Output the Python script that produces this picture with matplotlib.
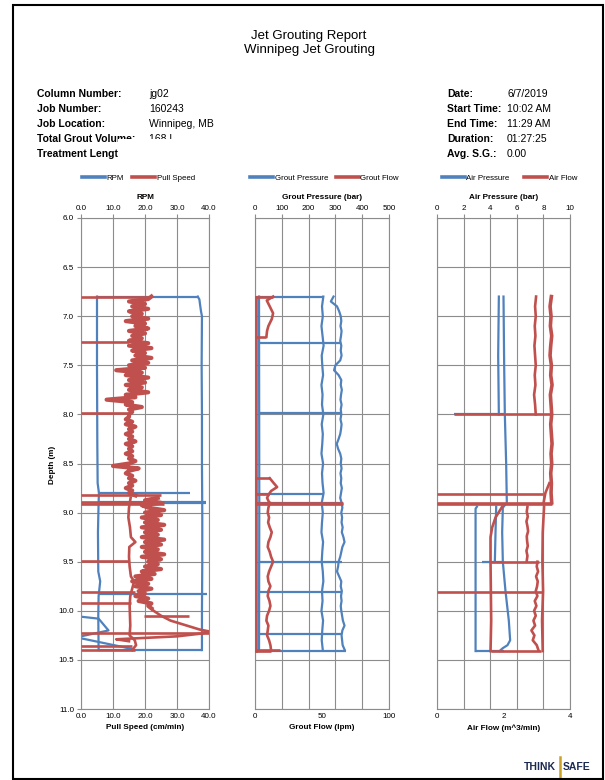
import numpy as np
import matplotlib
matplotlib.use('Agg')
import matplotlib.pyplot as plt
from matplotlib.lines import Line2D
from matplotlib.patches import Rectangle

plt.rcParams['font.family'] = ['Liberation Sans', 'DejaVu Sans']

BLUE = '#4f81bd'
RED = '#c0504d'
GRID = '#8c8c8c'
W, H = 605, 780

# ---------------- header info ----------------
info_left_labels = ['Column Number:', 'Job Number:', 'Job Location:', 'Total Grout Volume:', 'Treatment Length (m):']
info_left_values = ['jg02', '160243', 'Winnipeg, MB', '168 L', '3.60']
info_right_labels = ['Date:', 'Start Time:', 'End Time:', 'Duration:', 'Avg. S.G.:']
info_right_values = ['6/7/2019', '10:02 AM', '11:29 AM', '01:27:25', '0.00']

# ---------------- RPM / pull speed (cm/min) ----------------
# pull speed, dense readings every 0.025 m
speed_band_start = 6.80
speed_band = [22, 21, 15, 20, 16, 21, 15, 19,
              16, 21, 14, 20, 17, 21, 15, 20,
              16, 19, 15, 21, 15, 22, 16, 20,
              17, 22, 16, 21, 15, 20, 11, 19,
              14, 21, 15, 20, 14, 19, 15, 21,
              14, 17, 8, 16, 14, 19, 15, 16,
              15, 15, 14, 16, 14, 17, 15, 16,
              14, 16, 15, 17, 14, 16, 15, 16,
              14, 16, 15, 17, 15, 10, 18, 15,
              14, 16, 15, 17, 15, 16, 14, 16,
              15, 17]
speed_fast_start = 8.85
speed_fast = [24, 20, 25, 19, 21, 26, 20, 25,
              19, 24, 20, 26, 19, 25, 20, 24,
              19, 26, 20, 25, 19, 24, 20, 26,
              19, 25, 21, 24, 20, 25, 19, 23,
              17, 22, 16, 21, 17, 22, 18, 20,
              17, 21, 18, 22, 21, 22]
speed_tail_depth = [9.975, 10.00, 10.05, 10.10, 10.15, 10.19, 10.21, 10.23, 10.26, 10.29, 10.31]
speed_tail = [22, 22.7, 25, 28, 33, 37, 40, 38, 30, 11, 15]
speed_slow_depth = [8.85, 8.95, 9.05, 9.15, 9.25, 9.30, 9.35, 9.45, 9.55, 9.65, 9.70, 9.75,
                    9.85, 9.95, 10.05, 10.15, 10.25, 10.30, 10.35, 10.40]
speed_slow = [15.5, 15.0, 14.8, 15.3, 15.6, 17.0, 15.1, 15.0, 15.2, 15.6, 16.6, 16.2,
              15.4, 15.2, 15.3, 15.4, 15.2, 16.8, 17.2, 16.0]
speed_spike_depth = [6.80, 7.26, 7.99, 8.82, 8.89, 8.91, 9.49, 9.81, 9.92, 10.05, 10.23, 10.36, 10.40]
speed_spike_from = [0, 0, 0, 0, 0, 0, 0, 0, 0, 19.6, 0, 0, 0]
speed_spike_to = [22, 15, 15, 25, 26, 26, 15, 17, 15.5, 33.7, 40, 16, 17]

rpm_down_depth = [6.80, 7.50, 8.30, 8.70, 8.80, 8.90, 9.20, 9.60, 9.70, 9.76, 9.85, 10.05, 10.40]
rpm_down = [5.0, 5.0, 5.1, 5.2, 5.6, 5.5, 5.3, 5.4, 6.0, 5.8, 5.5, 5.4, 5.5]
rpm_up_depth = [10.40, 10.00, 9.50, 9.00, 8.50, 8.00, 7.50, 7.00, 6.95, 6.88, 6.83, 6.80]
rpm_up = [37.8, 37.8, 37.9, 37.9, 37.8, 37.8, 37.7, 37.8, 37.5, 37.2, 37.0, 36.5]
rpm_loop1_depth = [10.06, 10.08, 10.20, 10.26]
rpm_loop1 = [0, 5.5, 8.6, 0]
rpm_loop2_depth = [10.28, 10.37, 10.39]
rpm_loop2 = [0, 13.3, 16]
rpm_spike_depth = [6.80, 8.80, 8.895, 8.905, 9.83, 10.40]
rpm_spike_from = [5.0, 5.3, 5.5, 5.5, 5.5, 5.5]
rpm_spike_to = [36.5, 34.0, 39.0, 39.0, 39.5, 37.8]

# ---------------- grout pressure (bar) / grout flow (lpm) ----------------
gp_low_depth = [6.80, 8.90, 10.41]
gp_low = [15, 16, 15]
gp_mid_start = 6.80
gp_mid = [255, 250, 253, 248, 252, 256, 249, 251, 254, 248, 252, 250, 255, 249, 253, 251,
          248, 254, 250, 252, 256, 249, 253, 250, 248, 254, 251, 249, 253, 255, 250, 252,
          248, 254, 251, 249, 253]
gp_high_start = 6.80
gp_high = [293, 283, 306, 314, 320, 322, 319, 323, 321, 318, 322, 320, 323, 318, 300, 295,
           312, 322, 320, 324, 321, 319, 323, 320, 322, 319, 323, 321, 318, 312, 305, 310,
           318, 322, 320, 323, 319, 322, 320, 324, 321, 318, 323, 326, 322, 325, 323, 327,
           324, 330, 334, 326, 322, 318, 312, 310, 306, 314, 322, 320, 324, 321, 323, 320,
           322, 325, 328, 334, 326, 323, 325, 327, 335]
gp_spike_depth = [6.80, 7.27, 7.99, 8.81, 8.905, 8.915, 9.50, 9.81, 10.24, 10.41]
gp_spike_from = [5, 15, 15, 5, 0, 0, 15, 15, 15, 0]
gp_spike_to = [255, 322, 322, 255, 330, 330, 325, 320, 320, 340]

gf_edge_depth = [6.80, 10.41]
gf_edge = [0.5, 0.5]
gf_top_depth = [6.80, 6.84, 6.90, 6.97, 7.03, 7.10, 7.15, 7.21]
gf_top = [13.5, 8.8, 11.0, 13.5, 12.5, 10.0, 9.0, 8.5]
gf_mid_depth = [8.65, 8.70, 8.74, 8.78, 8.81, 8.85, 8.88, 8.91]
gf_mid = [11.0, 14.0, 16.5, 12.0, 10.5, 9.0, 10.0, 11.0]
gf_low_start = 8.90
gf_low = [11, 10, 9.5, 10.5, 9.8, 11, 12.5, 11.5, 10, 9.5, 11, 12, 13.5, 12, 10.5, 9.5,
          10, 11.5, 10, 9.5, 10.8, 11.5, 10.5, 9, 8.5, 10, 9.5, 9, 10.5, 11.5, 12]
gf_spike_depth = [6.80, 7.21, 8.65, 8.81, 8.905, 8.915, 10.40, 10.41]
gf_spike_from = [0, 0, 0, 0, 0, 0, 0, 0]
gf_spike_to = [13.5, 8.5, 11, 10.5, 66, 66, 19, 12]

# ---------------- air pressure (bar) / air flow (m^3/min) ----------------
ap_a_depth = [6.80, 7.40, 8.00]
ap_a = [4.65, 4.60, 4.65]
ap_b_depth = [6.80, 7.50, 8.00, 8.50, 8.90, 8.95, 9.20, 9.50, 9.80, 10.10, 10.30, 10.35, 10.38, 10.41]
ap_b = [5.00, 5.05, 5.10, 5.20, 5.25, 4.95, 4.90, 4.95, 5.15, 5.40, 5.50, 5.30, 4.95, 4.70]
ap_c_depth = [8.94, 9.20, 9.50]
ap_c = [4.45, 4.40, 4.35]
ap_d_depth = [8.94, 8.96, 10.41]
ap_d = [3.0, 2.9, 2.9]
ap_spike_depth = [8.00, 9.50, 10.41]
ap_spike_from = [1.26, 3.4, 2.9]
ap_spike_to = [5.1, 4.9, 5.0]

af_a_start = 6.80
af_a = [2.98, 2.95, 2.97, 2.94, 2.96, 2.93, 2.95, 2.97, 2.94, 2.96, 2.92, 2.95, 2.97]
af_b_start = 6.80
af_b = [3.44, 3.40, 3.43, 3.41, 3.45, 3.42, 3.40, 3.44, 3.42, 3.46, 3.41, 3.43, 3.45, 3.42,
        3.44, 3.46, 3.43, 3.45, 3.42, 3.44, 3.43, 3.45]
af_b2_depth = [8.70, 8.80, 8.91]
af_b2 = [3.38, 3.26, 3.20]
af_c_depth = [8.94, 9.05, 9.15, 9.25, 9.50, 9.80, 10.10, 10.41]
af_c = [1.96, 1.76, 1.66, 1.61, 1.61, 1.62, 1.63, 1.61]
af_d_start = 8.94
af_d = [2.72, 2.70, 2.73, 2.69, 2.72, 2.74, 2.70, 2.71, 2.73, 2.69, 2.72, 2.70]
af_e_start = 9.50
af_e = [3.02, 3.00, 3.04, 2.98, 3.03, 3.01, 2.97, 3.02, 2.94, 2.99, 2.92, 2.97, 2.90, 2.95,
        2.84, 2.93, 2.88, 3.00, 3.05]
af_f_depth = [8.94, 9.20, 9.50, 9.80, 10.10, 10.41]
af_f = [3.22, 3.18, 3.17, 3.19, 3.16, 3.18]
af_spike_depth = [8.00, 8.81, 8.905, 8.915, 9.50, 9.81, 10.41]
af_spike_from = [0.5, 0, 0, 0, 1.61, 0, 1.61]
af_spike_to = [3.47, 3.2, 3.47, 3.47, 3.06, 3.2, 3.12]


def depths(start, step, vals):
    return start + step * np.arange(len(vals))


def fx(px):
    return px / W


def fy(py):
    return 1 - py / H


fig = plt.figure(figsize=(6.05, 7.8), dpi=100)
fig.patch.set_facecolor('white')

depth_ticks = np.arange(6.0, 11.01, 0.5)


def make_panel(left, right, top_max, top_ticks, top_labels, top_title,
               bot_max, bot_ticks, bot_labels, bot_title, show_y):
    ax = fig.add_axes([fx(left), fy(709), fx(right - left), fy(218) - fy(709)])
    axb = ax.twiny()
    ax.xaxis.tick_top()
    ax.xaxis.set_label_position('top')
    axb.xaxis.tick_bottom()
    axb.xaxis.set_label_position('bottom')

    ax.set_ylim(11, 6)
    ax.set_xlim(0, top_max)
    ax.set_xticks(top_ticks)
    ax.set_xticklabels(top_labels)
    ax.set_yticks(depth_ticks)
    ax.grid(True, color=GRID, lw=0.8)
    ax.set_axisbelow(True)
    ax.tick_params(axis='x', direction='out', length=3, width=0.8, color=GRID,
                   labelsize=5.8, pad=1.5)
    if show_y:
        ax.set_yticklabels(['%.1f' % d for d in depth_ticks])
        ax.tick_params(axis='y', direction='out', length=3, width=0.8, color=GRID,
                       labelsize=5.8, pad=2)
    else:
        ax.tick_params(axis='y', length=0, labelleft=False)
    for s in ax.spines.values():
        s.set_color(GRID)
        s.set_linewidth(0.8)
    ax.set_xlabel(top_title, fontsize=5.9, fontweight='bold', labelpad=4)

    axb.set_xlim(0, bot_max)
    axb.set_xticks(bot_ticks)
    axb.set_xticklabels(bot_labels)
    axb.tick_params(axis='x', length=0, labelsize=5.8, pad=3)
    for s in axb.spines.values():
        s.set_visible(False)
    axb.set_xlabel(bot_title, fontsize=5.9, fontweight='bold', labelpad=3)
    return ax, axb


LB = 1.6    # blue line width
LR = 1.9    # red line width
LBAND = 3.0  # dense pull speed readings

# ---- left panel ----
ax1, ax1b = make_panel(81, 209, 40, [0, 10, 20, 30, 40], ['0.0', '10.0', '20.0', '30.0', '40.0'], 'RPM',
                       40, [0, 10, 20, 30, 40], ['0.0', '10.0', '20.0', '30.0', '40.0'],
                       'Pull Speed (cm/min)', True)
ax1.plot(rpm_down, rpm_down_depth, color=BLUE, lw=LB)
ax1.plot(rpm_up, rpm_up_depth, color=BLUE, lw=LB)
ax1.plot(rpm_loop1, rpm_loop1_depth, color=BLUE, lw=LB)
ax1.plot(rpm_loop2, rpm_loop2_depth, color=BLUE, lw=LB)
ax1.hlines(rpm_spike_depth, rpm_spike_from, rpm_spike_to, colors=BLUE, lw=LB)
ax1b.plot(speed_band, depths(speed_band_start, 0.025, speed_band), color=RED, lw=LBAND)
ax1b.plot(speed_fast, depths(speed_fast_start, 0.025, speed_fast), color=RED, lw=LBAND)
ax1b.plot(speed_tail, speed_tail_depth, color=RED, lw=LR)
ax1b.plot(speed_slow, speed_slow_depth, color=RED, lw=LR)
ax1b.hlines(speed_spike_depth, speed_spike_from, speed_spike_to, colors=RED, lw=LR)

# ---- middle panel ----
ax2, ax2b = make_panel(255, 389, 500, [0, 100, 200, 300, 400, 500], ['0', '100', '200', '300', '400', '500'],
                       'Grout Pressure (bar)', 100, [0, 50, 100], ['0', '50', '100'],
                       'Grout Flow (lpm)', False)
ax2.plot(gp_low, gp_low_depth, color=BLUE, lw=LB)
ax2.plot(gp_mid, depths(gp_mid_start, 0.1, gp_mid), color=BLUE, lw=LB)
ax2.plot(gp_high, depths(gp_high_start, 0.05, gp_high), color=BLUE, lw=LB)
ax2.hlines(gp_spike_depth, gp_spike_from, gp_spike_to, colors=BLUE, lw=LB)
ax2b.plot(gf_edge, gf_edge_depth, color=RED, lw=LR)
ax2b.plot(gf_top, gf_top_depth, color=RED, lw=LR)
ax2b.plot(gf_mid, gf_mid_depth, color=RED, lw=LR)
ax2b.plot(gf_low, depths(gf_low_start, 0.05, gf_low), color=RED, lw=LR)
ax2b.hlines(gf_spike_depth, gf_spike_from, gf_spike_to, colors=RED, lw=LR)

# ---- right panel ----
ax3, ax3b = make_panel(437, 570, 10, [0, 2, 4, 6, 8, 10], ['0', '2', '4', '6', '8', '10'],
                       'Air Pressure (bar)', 4, [0, 2, 4], ['0', '2', '4'],
                       'Air Flow (m^3/min)', False)
ax3.plot(ap_a, ap_a_depth, color=BLUE, lw=LB)
ax3.plot(ap_b, ap_b_depth, color=BLUE, lw=LB)
ax3.plot(ap_c, ap_c_depth, color=BLUE, lw=LB)
ax3.plot(ap_d, ap_d_depth, color=BLUE, lw=LB)
ax3.hlines(ap_spike_depth, ap_spike_from, ap_spike_to, colors=BLUE, lw=LB)
ax3b.plot(af_a, depths(af_a_start, 0.1, af_a), color=RED, lw=LR)
ax3b.plot(af_b, depths(af_b_start, 0.1, af_b), color=RED, lw=2.6)
ax3b.plot(af_b2, af_b2_depth, color=RED, lw=LR)
ax3b.plot(af_c, af_c_depth, color=RED, lw=LR)
ax3b.plot(af_d, depths(af_d_start, 0.05, af_d), color=RED, lw=LR)
ax3b.plot(af_e, depths(af_e_start, 0.05, af_e), color=RED, lw=LR)
ax3b.plot(af_f, af_f_depth, color=RED, lw=LR)
ax3b.hlines(af_spike_depth, af_spike_from, af_spike_to, colors=RED, lw=LR)

# ---- legends ----
legends = [(138.5, 'RPM', 'Pull Speed', 1.0),
           (324.5, 'Grout Pressure', 'Grout Flow', 1.0),
           (509.5, 'Air Pressure', 'Air Flow', 1.9)]
for cx, lab_b, lab_r, cs in legends:
    handles = [Line2D([], [], color=BLUE, lw=2.6), Line2D([], [], color=RED, lw=2.6)]
    fig.legend(handles, [lab_b, lab_r], loc='center', bbox_to_anchor=(fx(cx), fy(178)),
               ncol=2, frameon=False, fontsize=5.7, handlelength=2.9, handletextpad=0.2,
               columnspacing=cs, borderpad=0)

fig.text(fx(52), fy(465), 'Depth (m)', rotation=90, ha='center', va='center',
         fontsize=5.9, fontweight='bold')

# ---- header ----
fig.text(fx(309), fy(36), 'Jet Grouting Report', ha='center', va='center', fontsize=9.5)
fig.text(fx(309), fy(50), 'Winnipeg Jet Grouting', ha='center', va='center', fontsize=9.5)
row_y = [94, 109, 124, 139, 154]
for yy, lab, val in zip(row_y, info_left_labels, info_left_values):
    fig.text(fx(37), fy(yy), lab, ha='left', va='center', fontsize=7.5, fontweight='bold')
    fig.text(fx(149), fy(yy), val, ha='left', va='center', fontsize=7.5)
for yy, lab, val in zip(row_y, info_right_labels, info_right_values):
    fig.text(fx(447), fy(yy), lab, ha='left', va='center', fontsize=7.5, fontweight='bold')
    fig.text(fx(507), fy(yy), val, ha='left', va='center', fontsize=7.5)

# white block hiding the clipped part of the header, as in the report
fig.add_artist(Rectangle((fx(118), fy(165)), fx(160), 26 / H, transform=fig.transFigure,
                         fc='white', ec='none', zorder=10))

# page frame
fig.add_artist(Rectangle((fx(13), fy(779)), fx(590), (779 - 5) / H, transform=fig.transFigure,
                         fill=False, ec='black', lw=1.5, zorder=11))

# logo
fig.text(fx(556), fy(767), 'THINK', ha='right', va='center', fontsize=7.5,
         fontweight='heavy', color='#1b2a52')
fig.text(fx(563), fy(767), 'SAFE', ha='left', va='center', fontsize=7.5,
         fontweight='heavy', color='#1b2a52')
fig.add_artist(Line2D([fx(559.5), fx(559.5)], [fy(757), fy(777)], transform=fig.transFigure,
                      color='#c9a227', lw=1.8))

fig.savefig('out.png', dpi=100, facecolor='white')
